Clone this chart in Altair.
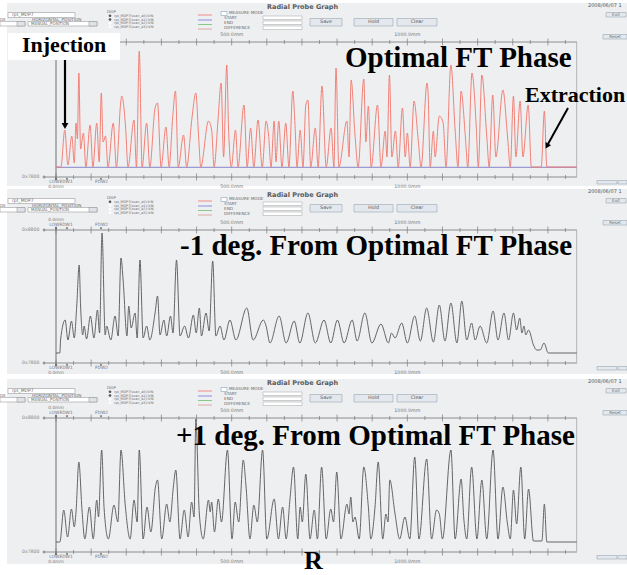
import altair as alt
import pandas as pd

# ---------------- data (position in mm, signal height in panel units) ----------------
p1_points = [(0,0),(14,0),(25,37),(34,2),(45,31),(52,4),(57,44),(61,28),(65,94),(70,18),(78,34),(85,0),(97,42),(105,0),
(116,44),(123,5),(129,74),(134,25),(141,31),(148,0),(163,44),(172,0),(184,64),(187,71),(198,40),(205,0),(222,47),(229,0),
(237,116),(245,0),(258,44),(267,0),(282,59),(289,64),(299,0),(313,40),(322,0),(332,49),(340,76),(348,0),(363,32),(372,0),
(387,49),(398,74),(406,30),(412,0),(434,46),(443,37),(450,0),(461,46),(470,84),(477,10),(486,102),(491,40),(499,0),(511,37),
(518,0),(535,62),(544,0),(554,39),(563,0),(575,47),(587,0),(598,46),(605,32),(612,0),(621,46),(626,5),(634,46),(643,0),
(654,44),(663,0),(674,76),(680,44),(686,0),(695,37),(703,0),(711,62),(717,67),(725,0),(738,39),(746,0),(757,81),(769,0),
(783,39),(791,0),(797,99),(805,0),(828,46),(834,10),(840,87),(851,32),(860,0),(876,88),(882,25),(889,61),(897,0),(915,62),
(925,0),(937,36),(942,10),(949,92),(956,10),(966,36),(974,0),(986,59),(994,10),(1000,34),(1008,0),(1019,66),(1031,27),
(1039,0),(1056,84),(1059,74),(1065,0),(1074,36),(1079,10),(1091,51),(1102,44),(1110,0),(1124,102),(1136,37),(1144,0),
(1153,76),(1165,31),(1172,0),(1184,94),(1196,41),(1202,0),(1212,92),(1226,31),(1233,0),(1243,72),(1252,10),(1272,77),
(1285,31),(1293,0),(1302,71),(1309,10),(1321,66),(1329,10),(1344,62),(1353,0),(1381,0),(1390,56),(1397,0),(1482,0)]

p2_points = [(0,0),(11,0),(13,13),(26,33),(34,13),(44,32),(52,15),(59,47),(66,88),(70,47),(76,18),(80,27),(87,14),(98,37),
(108,15),(118,43),(124,20),(131,120),(140,18),(144,27),(156,13),(168,37),(177,17),(185,95),(191,73),(202,17),(207,47),
(214,25),(225,40),(231,15),(239,93),(248,15),(258,27),(267,13),(282,40),(289,57),(296,18),(307,33),(315,17),(326,37),
(333,20),(343,93),(353,17),(366,27),(377,15),(391,38),(399,20),(408,45),(414,17),(427,40),(436,22),(446,92),(455,17),
(467,27),(478,13),(495,33),(512,13),(543,45),(561,13),(590,33),(598,27),(609,10),(635,37),(655,10),(678,32),(694,10),
(717,40),(738,10),(763,33),(782,10),(801,33),(820,10),(843,33),(857,12),(879,40),(899,10),(925,29),(946,10),(955,20),
(965,15),(984,30),(1000,10),(1021,37),(1037,12),(1055,45),(1074,11),(1091,48),(1107,12),(1124,50),(1141,10),(1155,52),
(1169,13),(1183,30),(1193,13),(1207,27),(1226,10),(1244,42),(1258,13),(1275,40),(1288,13),(1302,40),(1311,23),(1320,35),
(1326,20),(1332,27),(1337,18),(1345,23),(1359,8),(1368,3),(1378,3),(1389,10),(1401,0),(1482,0)]

p3_points = [(0,0),(11,0),(22,32),(33,5),(44,33),(52,15),(57,30),(65,80),(74,32),(82,3),(95,35),(106,3),(116,42),(121,25),
(130,92),(137,33),(149,3),(165,37),(176,20),(185,92),(197,37),(211,3),(222,42),(231,20),(237,92),(248,3),(259,35),(270,10),
(283,55),(289,62),(301,3),(315,38),(324,20),(334,55),(341,72),(353,3),(365,32),(376,5),(386,40),(393,25),(398,123),(408,28),
(419,3),(434,42),(439,30),(443,40),(451,10),(462,43),(471,20),(488,92),(501,3),(510,40),(520,20),(533,82),(541,55),(552,3),
(563,37),(573,20),(588,92),(600,3),(621,43),(633,3),(645,35),(655,3),(666,43),(676,75),(688,3),(695,35),(701,20),(711,68),
(723,3),(735,32),(744,3),(756,75),(769,3),(782,33),(790,20),(799,70),(811,3),(828,38),(834,28),(839,45),(845,20),(851,25),
(863,3),(876,75),(889,35),(896,3),(908,35),(917,80),(930,3),(939,28),(945,20),(950,62),(965,28),(978,3),(993,25),(1007,3),
(1021,85),(1033,3),(1055,83),(1069,3),(1083,32),(1091,28),(1100,3),(1124,92),(1136,3),(1153,63),(1161,22),(1169,3),
(1183,75),(1198,3),(1212,62),(1226,3),(1244,92),(1258,3),(1272,55),(1285,18),(1293,3),(1302,52),(1311,18),(1323,75),
(1334,3),(1345,53),(1359,1),(1383,1),(1390,38),(1397,0),(1482,0)]

tick_mm = list(range(0, 1451, 50))
axis_labels = [(500, "500.0mm"), (1000, "1000.0mm")]
radio_labels = ["rpt_MDP7(scan_all):V:N", "rpt_MDP7(scan_a1):V:N", "rpt_MDP7(scan_a2):V:N", "rpt_MDP7(scan_a3):V:N"]
titles = ["Optimal FT Phase", "-1 deg. From Optimal FT Phase", "+1 deg. From Optimal FT Phase"]

# ---------------- helpers ----------------
one = pd.DataFrame({"k": [0]})
BG = "#edeff1"
UI = "#6a6a6a"
layers = []

def txt(x, y, s, size=5, color=UI, font="DejaVu Sans", weight="normal", align="left", baseline="middle"):
    layers.append(alt.Chart(one).mark_text(text=s, fontSize=size, color=color, font=font, fontWeight=weight,
                                           align=align, baseline=baseline).encode(x=alt.value(x), y=alt.value(y)))

def box(x1, y1, x2, y2, fill, stroke=None, sw=0.6):
    kw = dict(fill=fill)
    if stroke:
        kw.update(stroke=stroke, strokeWidth=sw)
    layers.append(alt.Chart(one).mark_rect(**kw).encode(x=alt.value(x1), x2=alt.value(x2),
                                                          y=alt.value(y1), y2=alt.value(y2)))

def seg(x1, y1, x2, y2, color, w=1.0):
    layers.append(alt.Chart(one).mark_rule(color=color, strokeWidth=w).encode(
        x=alt.value(x1), x2=alt.value(x2), y=alt.value(y1), y2=alt.value(y2)))

def pt(x, y, shape, size, color, angle=0):
    kw = dict(shape=shape, size=size, filled=True, color=color, opacity=1)
    if angle:
        kw["angle"] = angle
    layers.append(alt.Chart(one).mark_point(**kw).encode(x=alt.value(x), y=alt.value(y)))

xs = alt.Scale(domain=[0, 1482], range=[56, 576.7], nice=False, zero=False)
ticks_df = pd.DataFrame({"mm": tick_mm, "major": [m % 100 == 0 for m in tick_mm]})
lab_df = pd.DataFrame({"mm": [a for a, _ in axis_labels], "lab": [b for _, b in axis_labels]})

panels = [
    dict(T=2, end=186, ty=7, top=42, bot=177, radios=[1, 1, 0, 0], pts=p1_points, color="#f27a70", dom=[-10, 125]),
    dict(T=188, end=374, ty=195, top=230, bot=363, radios=[1, 0, 0, 0], pts=p2_points, color="#5e5e5e", dom=[-10, 123]),
    dict(T=378, end=564, ty=383, top=418, bot=552, radios=[1, 1, 0, 0], pts=p3_points, color="#5e5e5e", dom=[-10, 124]),
]

for i, P in enumerate(panels):
    T = P["T"]
    box(7, T + 1, 627, P["end"], BG)
    # header
    txt(267, P["ty"], "Radial Probe Graph", size=6.5, weight="bold", color="#5a5a5a")
    txt(588, T + 3, "2008/06/07 1", size=5, color="#555")
    box(8, T + 10.5, 75, T + 15.5, "white", "#9a9a9a")
    txt(12, T + 13, "rpt_MDP7", size=4.5)
    txt(0, T + 17.5, "DE", size=4.2)
    txt(32, T + 17.5, "HORIZONTAL_POSITION", size=4.2)
    box(0, T + 19.5, 25, T + 24, "white", "#9a9a9a")
    box(17, T + 19.5, 25, T + 24, "#dfe3e8", "#9a9a9a")
    box(28, T + 19.5, 97, T + 24, "white", "#9a9a9a")
    txt(31, T + 21.8, "MANUAL_POSITION", size=4.0)
    box(89, T + 19.5, 97, T + 24, "#dfe3e8", "#9a9a9a")
    txt(107, T + 10, "DISP", size=3.8)
    for r, lab in enumerate(radio_labels):
        yy = T + 13.8 + r * 3.7
        pt(110, yy, "circle", 7, "#555" if P["radios"][r] else "#ffffff")
        txt(114, yy, lab, size=3.4)
    for yy, c in zip([13, 18, 22.5, 27], ["#f08a84", "#8c8ce0", "#8cc88c", "#e0a8a8"]):
        seg(198, T + yy, 212, T + yy, c, 1.0)
    box(221, T + 9.5, 227, T + 13.5, "white", "#8aa0c0")
    txt(229, T + 11.3, "MEASURE MODE", size=4.2)
    for yy, lab in zip([16, 21, 26], ["START", "END", "DIFFERENCE"]):
        txt(224, T + yy, lab, size=4.2)
    for yy in [14, 19, 24]:
        box(263, T + yy, 302, T + yy + 3.5, "white", "#a0a0a0", 0.5)
    for x1, x2, lab in [(310, 342, "Save"), (354, 393, "Hold"), (397, 437, "Clear")]:
        box(x1, T + 16.5, x2, T + 24, "#e3e8ee", "#9aa6b4")
        txt((x1 + x2) / 2, T + 20.3, lab, size=4.8, align="center", color="#555")
    box(606, T + 10.5, 626, T + 15, "#e3e8ee", "#9aa6b4")
    txt(616, T + 12.8, "Exit", size=4.2, align="center")
    box(603, T + 32.5, 627, T + 37, "#e3e8ee", "#9aa6b4")
    txt(615, T + 34.8, "Reset", size=4.2, align="center")

    top, bot = P["top"], P["bot"]
    # plot frame
    seg(44, top, 577, top, "#8c8c8c", 1)
    seg(44, bot, 577, bot, "#8c8c8c", 1)
    seg(56, top - 3, 56, bot + 3, "#707070", 1)
    seg(576.7, top, 576.7, bot, "#b4b4b4", 1)
    for yy in [top, bot]:
        for major, size in [(True, 7), (False, 4)]:
            layers.append(alt.Chart(ticks_df[ticks_df["major"] == major]).mark_tick(
                size=size, thickness=1, color="#7a7a7a").encode(
                x=alt.X("mm:Q", scale=xs, axis=None), y=alt.value(yy)))
        pt(44, yy, "cross", 8, "#888")
    # axis texts
    layers.append(alt.Chart(lab_df).mark_text(fontSize=4.8, color="#777", font="DejaVu Sans").encode(
        x=alt.X("mm:Q", scale=xs, axis=None), y=alt.value(top - 7), text="lab:N"))
    layers.append(alt.Chart(lab_df).mark_text(fontSize=4.8, color="#777", font="DejaVu Sans").encode(
        x=alt.X("mm:Q", scale=xs, axis=None), y=alt.value(bot + 10), text="lab:N"))
    if i > 0:
        txt(56, top - 10, "0.0mm", size=4.4, align="center", color="#777")
        txt(61, top - 4.8, "LOWEDW1", size=4.4, align="center", color="#777")
        txt(101.5, top - 4.8, "FDW2", size=4.4, align="center", color="#777")
        txt(22, top, "0x8800", size=4.6, color="#888")
    txt(61, bot + 5, "LOWEDW1", size=4.4, align="center", color="#777")
    txt(56, bot + 10, "0.0mm", size=4.4, align="center", color="#777")
    txt(101.5, bot + 5, "FDW2", size=4.4, align="center", color="#777")
    for mx in [56, 67, 101]:
        pt(mx, top - 1.5, "triangle-down", 6, "#555")
        pt(mx, bot + 1.5, "triangle-up", 6, "#555")
    txt(22, bot, "0x7800", size=4.6, color="#888")
    box(597, bot + 3.5, 617, bot + 7, "#e3e8ee", "#9aa6b4")
    box(618, bot + 3.5, 627, bot + 7, "#e3e8ee", "#9aa6b4")

    # signal
    df = pd.DataFrame({"x": [a for a, _ in P["pts"]], "y": [b for _, b in P["pts"]]})
    df["i"] = range(len(df))
    ys = alt.Scale(domain=P["dom"], range=[bot, top], nice=False, zero=False)
    if i == 0:
        seg(56, 167.3, 576.7, 167.3, "#9b9bd2", 1.2)
    layers.append(alt.Chart(df).mark_line(color=P["color"], strokeWidth=1.0, opacity=0.95,
                                          interpolate="monotone").encode(
        x=alt.X("x:Q", scale=xs, axis=None), y=alt.Y("y:Q", scale=ys, axis=None), order="i:Q"))

# ---------------- annotations ----------------
SERIF = "Liberation Serif"
box(8, 33, 120, 60, "white")
txt(22, 52, "Injection", size=22, color="black", font=SERIF, weight="bold", baseline="alphabetic")
seg(65, 60, 65, 124, "black", 2.2)
pt(65, 126, "triangle-down", 45, "black")
txt(345, 67, titles[0], size=29, color="black", font=SERIF, weight="bold", baseline="alphabetic")
txt(525, 101.5, "Extraction", size=22, color="black", font=SERIF, weight="bold", baseline="alphabetic")
seg(568, 108, 548, 144, "black", 2.0)
pt(547, 146, "triangle-down", 40, "black", angle=29)
txt(180, 255, titles[1], size=29, color="black", font=SERIF, weight="bold", baseline="alphabetic")
txt(176, 445, titles[2], size=29, color="black", font=SERIF, weight="bold", baseline="alphabetic")
txt(304, 569, "R", size=26, color="black", font=SERIF, weight="bold", baseline="alphabetic")

chart = alt.layer(*layers).resolve_scale(y="independent").properties(
    width=627, height=575, padding=0, autosize=alt.AutoSizeParams(type="none"),
    background="white",
).configure_view(stroke=None)

chart.save("out.html", embed_options={"renderer": "svg", "actions": False})
